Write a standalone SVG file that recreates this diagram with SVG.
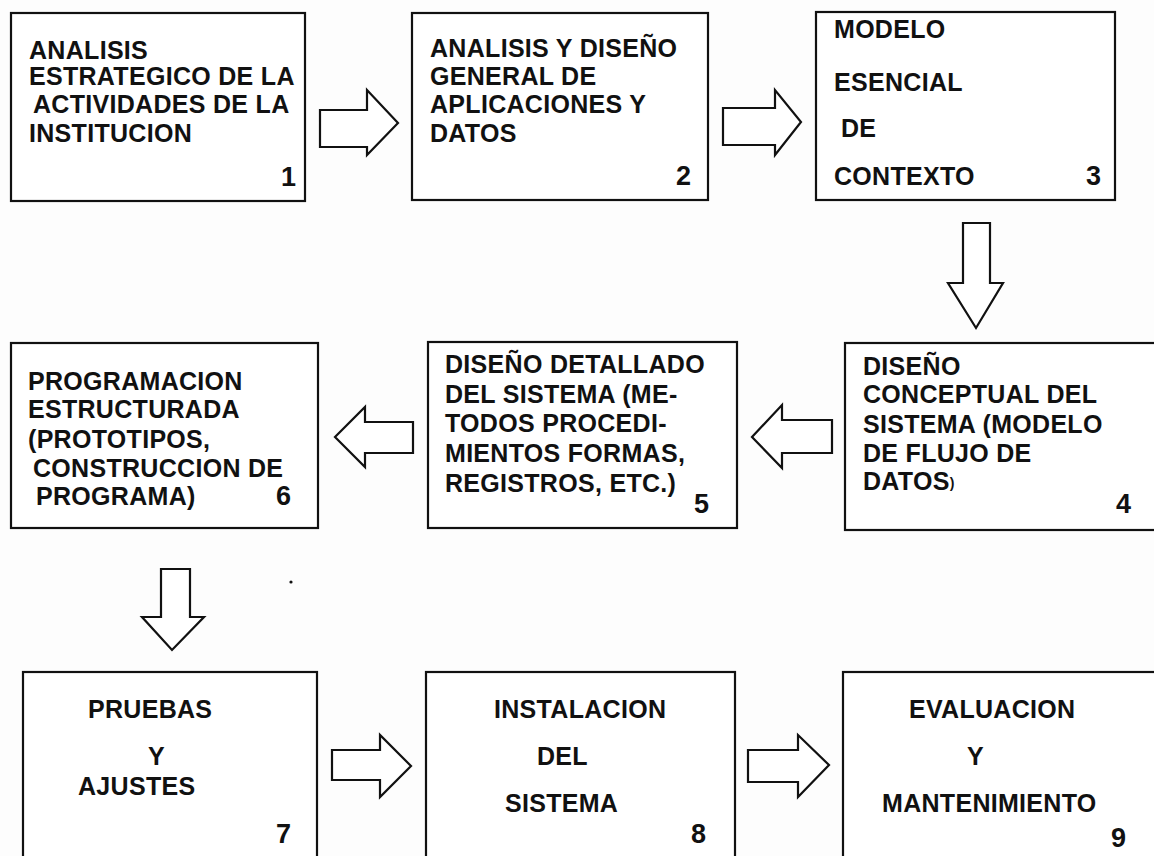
<svg xmlns="http://www.w3.org/2000/svg" width="1154" height="856" viewBox="0 0 1154 856">
<style>
.box{fill:#fff;stroke:#111;stroke-width:2.2}
.arr{fill:#fff;stroke:#111;stroke-width:2.2;stroke-linejoin:miter}
text{font-family:"Liberation Sans",Arial,sans-serif;font-weight:bold;font-size:25px;fill:#111;letter-spacing:0.3px}
.n{text-anchor:end;letter-spacing:0;font-size:27px}
</style>
<rect width="1154" height="856" fill="#fdfdfd"/>
<g id="connectors">
<polygon class="arr" points="320,110 367,110 367,90 398,123 367,155 367,147 320,147"/>
<polygon class="arr" points="723,108 775,108 775,90 801,122 775,155 775,145 723,145"/>
<polygon class="arr" points="963,223 990,223 990,283 1003,283 976,328 948,283 963,283"/>
<polygon class="arr" points="832,420 782,420 782,405 752,437 782,468 782,453 832,453"/>
<polygon class="arr" points="413,422 365,422 365,407 335,437 365,467 365,453 413,453"/>
<polygon class="arr" points="161,569 190,569 190,617 204,617 172,650 142,617 161,617"/>
<polygon class="arr" points="332,750 380,750 380,735 411,766 380,797 380,780 332,780"/>
<polygon class="arr" points="748,750 798,750 798,735 829,765 798,797 798,782 748,782"/>
</g>
<g id="node1">
<rect class="box" x="11" y="13" width="294" height="188"/>
<text x="29" y="59">ANALISIS</text>
<text x="29" y="85">ESTRATEGICO DE LA</text>
<text x="33" y="113">ACTIVIDADES DE LA</text>
<text x="29" y="142">INSTITUCION</text>
<text class="n" x="296" y="186">1</text>
</g>
<g id="node2">
<rect class="box" x="412" y="13" width="296" height="187"/>
<text x="430" y="57">ANALISIS Y DISEÑO</text>
<text x="430" y="85">GENERAL DE</text>
<text x="430" y="113">APLICACIONES Y</text>
<text x="430" y="142">DATOS</text>
<text class="n" x="691" y="185">2</text>
</g>
<g id="node3">
<rect class="box" x="816" y="12" width="299" height="188"/>
<text x="834" y="38">MODELO</text>
<text x="834" y="91">ESENCIAL</text>
<text x="841" y="137">DE</text>
<text x="834" y="185">CONTEXTO</text>
<text class="n" x="1101" y="185">3</text>
</g>
<g id="node4">
<rect class="box" x="845" y="343" width="320" height="187"/>
<text x="863" y="375">DISEÑO</text>
<text x="863" y="403">CONCEPTUAL DEL</text>
<text x="863" y="433">SISTEMA (MODELO</text>
<text x="863" y="462">DE FLUJO DE</text>
<text x="863" y="490">DATOS<tspan font-size="14" dy="-2">)</tspan></text>
<text class="n" x="1131" y="513">4</text>
</g>
<g id="node5">
<rect class="box" x="428" y="342" width="309" height="186"/>
<text x="445" y="373">DISEÑO DETALLADO</text>
<text x="445" y="403">DEL SISTEMA (ME-</text>
<text x="445" y="432">TODOS PROCEDI-</text>
<text x="445" y="462">MIENTOS FORMAS,</text>
<text x="445" y="492">REGISTROS, ETC.)</text>
<text class="n" x="709" y="513">5</text>
</g>
<g id="node6">
<rect class="box" x="11" y="343" width="307" height="185"/>
<text x="28" y="390">PROGRAMACION</text>
<text x="28" y="418">ESTRUCTURADA</text>
<text x="28" y="448">(PROTOTIPOS,</text>
<text x="33" y="477">CONSTRUCCION DE</text>
<text x="36" y="505">PROGRAMA)</text>
<text class="n" x="291" y="505">6</text>
</g>
<circle cx="291" cy="582" r="1.6" fill="#111"/>
<g id="node7">
<rect class="box" x="23" y="672" width="294" height="200"/>
<text x="88" y="718">PRUEBAS</text>
<text x="148" y="765">Y</text>
<text x="78" y="795">AJUSTES</text>
<text class="n" x="291" y="843">7</text>
</g>
<g id="node8">
<rect class="box" x="426" y="672" width="309" height="200"/>
<text x="494" y="718">INSTALACION</text>
<text x="537" y="765">DEL</text>
<text x="505" y="812">SISTEMA</text>
<text class="n" x="706" y="843">8</text>
</g>
<g id="node9">
<rect class="box" x="843" y="672" width="320" height="200"/>
<text x="909" y="718">EVALUACION</text>
<text x="967" y="765">Y</text>
<text x="882" y="812">MANTENIMIENTO</text>
<text class="n" x="1126" y="847">9</text>
</g>
</svg>
